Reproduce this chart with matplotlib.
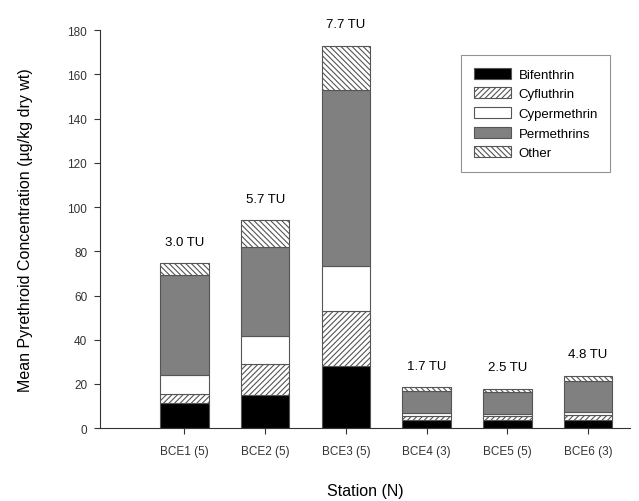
import numpy as np
import matplotlib.pyplot as plt

plt.rcParams['font.family'] = ['Liberation Sans', 'DejaVu Sans']
plt.rcParams['hatch.color'] = '#555555'
plt.rcParams['hatch.linewidth'] = 0.8

# stations and values (ug/kg dry wt)
stations = ['BCE1 (5)', 'BCE2 (5)', 'BCE3 (5)', 'BCE4 (3)', 'BCE5 (5)', 'BCE6 (3)']
bifenthrin = [11.5, 15.0, 28.0, 3.5, 3.8, 3.8]
cyfluthrin = [4.0, 14.0, 25.0, 2.0, 1.7, 2.0]
cypermethrin = [8.5, 12.5, 20.5, 1.2, 0.8, 1.5]
permethrins = [45.5, 40.5, 79.5, 10.3, 10.2, 14.2]
other = [5.0, 12.0, 20.0, 1.6, 1.3, 2.3]
tu_labels = ['3.0 TU', '5.7 TU', '7.7 TU', '1.7 TU', '2.5 TU', '4.8 TU']

series = [
    ('Bifenthrin', bifenthrin, 'black', None),
    ('Cyfluthrin', cyfluthrin, 'white', '//////'),
    ('Cypermethrin', cypermethrin, 'white', None),
    ('Permethrins', permethrins, '#808080', None),
    ('Other', other, 'white', '\\\\\\\\\\\\'),
]

fig = plt.figure(figsize=(6.39, 5.02), dpi=100)
ax = fig.add_axes([0.156, 0.145, 0.83, 0.793])

x = np.arange(len(stations))
bottom = np.zeros(len(stations))
for name, vals, color, hatch in series:
    ax.bar(x, vals, 0.6, bottom=bottom, color=color, hatch=hatch,
           edgecolor='#555555', linewidth=0.8, label=name)
    bottom += np.array(vals)

for xi, top, lab in zip(x, bottom, tu_labels):
    ax.annotate(lab, (xi, top), xytext=(0, 15.5), textcoords='offset points',
                ha='center', va='center', fontsize=9.5)

ax.set_xlim(-1.05, 5.52)
ax.set_ylim(0, 180)
ax.set_yticks(np.arange(0, 181, 20))
ax.set_xticks(x)
ax.set_xticklabels(stations)
ax.tick_params(axis='both', labelsize=8.5, direction='out', length=4, width=0.8,
               colors='#333333')
ax.tick_params(axis='x', pad=8)
ax.tick_params(axis='y', pad=5)
for s in ['top', 'right']:
    ax.spines[s].set_visible(False)
ax.spines['left'].set_color('#333333')
ax.spines['bottom'].set_color('#333333')

ax.set_ylabel('Mean Pyrethroid Concentration (µg/kg dry wt)', fontsize=11.5, labelpad=25)
ax.set_xlabel('Station (N)', fontsize=11.5, labelpad=19)

leg = ax.legend(loc='upper right', bbox_to_anchor=(0.963, 0.937), fontsize=9.5,
                frameon=True, fancybox=False, edgecolor='#777777',
                handlelength=2.8, handleheight=0.9, borderpad=0.95,
                labelspacing=0.5, handletextpad=0.6, borderaxespad=0)
leg.get_frame().set_linewidth(0.8)

fig.savefig('out.png', dpi=100)
